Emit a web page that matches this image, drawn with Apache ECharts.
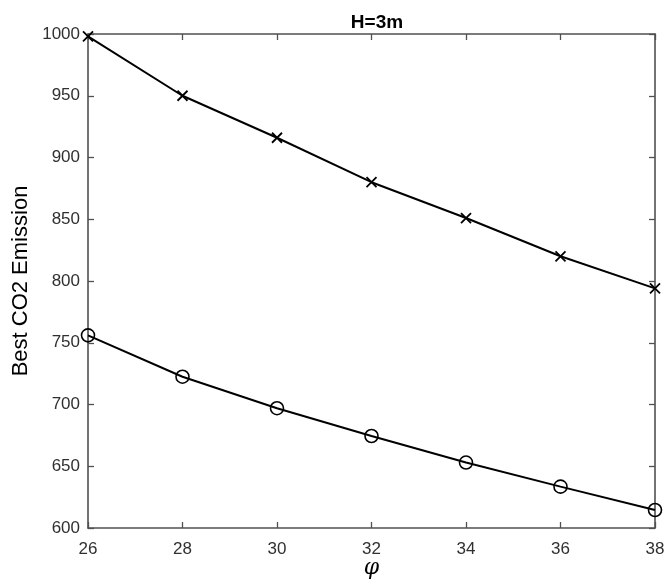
<!DOCTYPE html>
<html>
<head>
<meta charset="utf-8">
<script src="https://cdn.jsdelivr.net/npm/echarts@6/dist/echarts.min.js"></script>
<style>
  html, body { margin: 0; padding: 0; background: #fff; }
  #chart { width: 665px; height: 582px; }
</style>
</head>
<body>
<div id="chart"></div>
<script>
// Friction angle values on the horizontal axis
const phi = [26, 28, 30, 32, 34, 36, 38];
// Best CO2 emission for the two design cases
const crossSeries = [998, 950, 916, 880, 851, 820, 794];
const circleSeries = [756, 722.5, 697, 674.5, 653, 633.5, 614.6];
const titleText = 'H=3m';
const yLabel = 'Best CO2 Emission';
const xLabel = 'φ';

const axisColor = '#505050';
const labelColor = '#303030';
const fontFam = 'Liberation Sans, Arial, sans-serif';

const pairs = (ys) => phi.map((x, i) => [x, ys[i]]);

const chart = echarts.init(document.getElementById('chart'));

const baseX = {
  type: 'value', min: 26, max: 38, interval: 2,
  axisLine: { show: true, onZero: false, lineStyle: { color: axisColor, width: 1.6 } },
  axisTick: { show: true, inside: true, length: 6, lineStyle: { color: axisColor, width: 1.3 } },
  splitLine: { show: false }
};
const baseY = {
  type: 'value', min: 600, max: 1000, interval: 50,
  axisLine: { show: true, onZero: false, lineStyle: { color: axisColor, width: 1.6 } },
  axisTick: { show: true, inside: true, length: 6, lineStyle: { color: axisColor, width: 1.3 } },
  splitLine: { show: false }
};

chart.setOption({
  animation: false,
  backgroundColor: '#fff',
  title: {
    text: titleText, left: 372, top: 8, textAlign: 'center',
    textStyle: { fontFamily: fontFam, fontSize: 19, fontWeight: 'bold', color: '#000' }
  },
  grid: { left: 88, right: 10, top: 34, bottom: 54, containLabel: false, outerBoundsMode: 'none' },
  xAxis: [
    Object.assign({}, baseX, {
      position: 'bottom',
      name: xLabel, nameLocation: 'middle', nameGap: 29, nameMoveOverlap: false,
      nameTextStyle: { fontFamily: 'DejaVu Serif, serif', fontStyle: 'italic', fontSize: 22, color: '#000' },
      axisLabel: { margin: 13, fontFamily: fontFam, fontSize: 17, color: labelColor }
    }),
    Object.assign({}, baseX, { position: 'top', axisLabel: { show: false } })
  ],
  yAxis: [
    Object.assign({}, baseY, {
      position: 'left',
      name: yLabel, nameLocation: 'middle', nameGap: 56, nameRotate: 90, nameMoveOverlap: false,
      nameTextStyle: { fontFamily: fontFam, fontSize: 22, color: '#000' },
      axisLabel: { margin: 8, fontFamily: fontFam, fontSize: 17, color: labelColor,
                   formatter: (v) => String(v) }
    }),
    Object.assign({}, baseY, { position: 'right', axisLabel: { show: false } })
  ],
  series: [
    {
      type: 'line', data: pairs(crossSeries),
      symbol: 'path://M0,0L10,10M10,0L0,10', symbolSize: 10,
      lineStyle: { color: '#000', width: 2 },
      itemStyle: { color: 'none', borderColor: '#000', borderWidth: 1.8 },
      clip: false, z: 3
    },
    {
      type: 'line', data: pairs(circleSeries),
      symbol: 'circle', symbolSize: 13,
      lineStyle: { color: '#000', width: 2 },
      itemStyle: { color: 'none', borderColor: '#000', borderWidth: 1.6 },
      clip: false, z: 3
    }
  ]
});
</script>
</body>
</html>
